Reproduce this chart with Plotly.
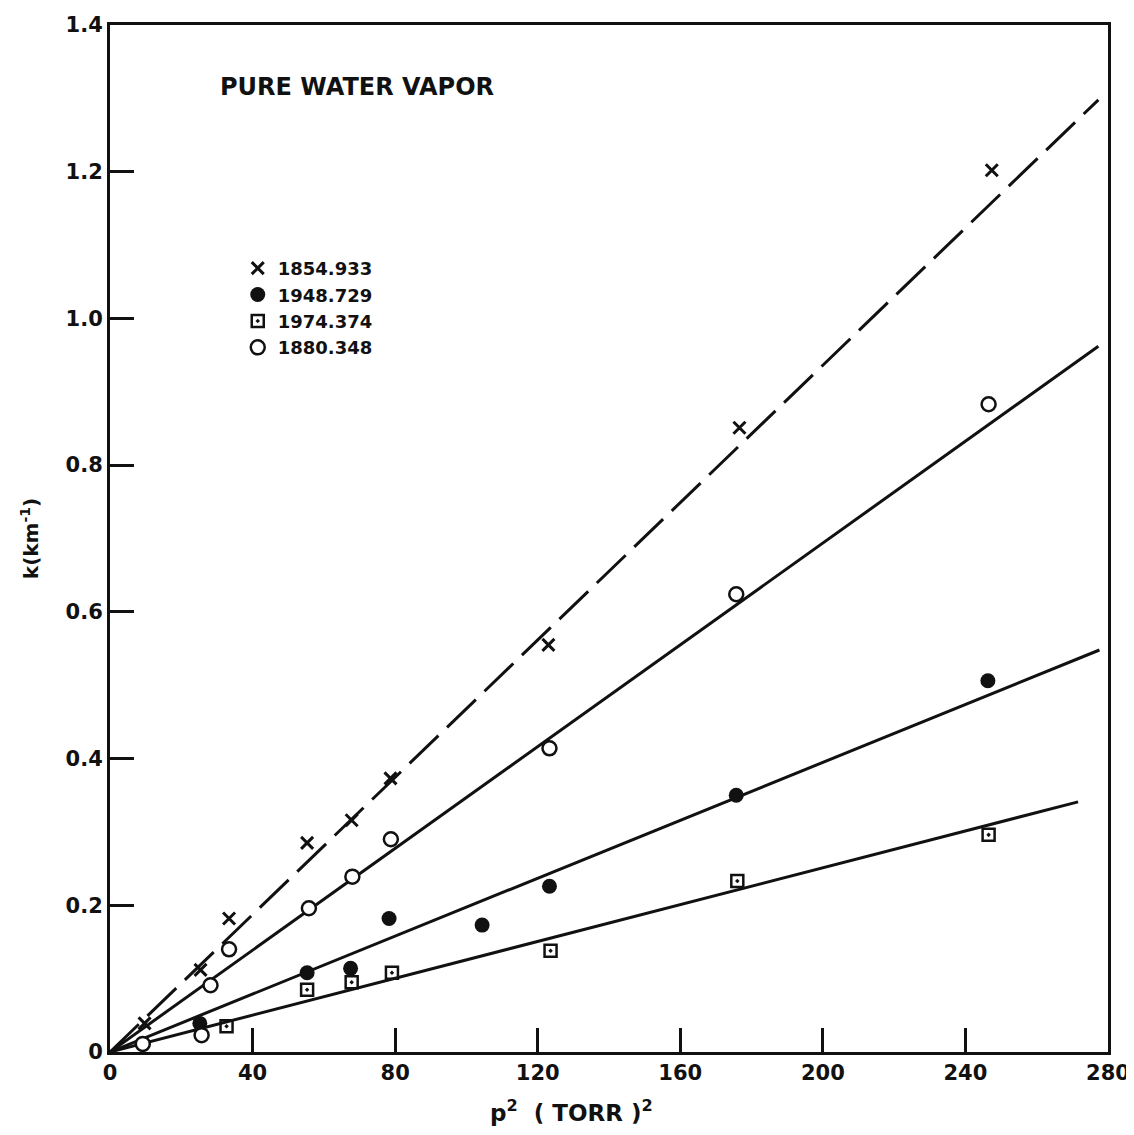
import plotly.graph_objects as go

# ---- data ----
x_1854 = [9.7, 25.4, 33.4, 55.3, 67.8, 78.7, 123.0, 176.6, 247.4]
y_1854 = [0.039, 0.112, 0.182, 0.285, 0.316, 0.373, 0.555, 0.851, 1.202]

x_1948 = [25.2, 55.3, 67.5, 78.3, 104.4, 123.3, 175.7, 246.3]
y_1948 = [0.039, 0.108, 0.114, 0.182, 0.173, 0.226, 0.350, 0.506]

x_1974 = [32.7, 55.3, 67.8, 79.1, 123.6, 176.0, 246.5]
y_1974 = [0.035, 0.085, 0.095, 0.108, 0.138, 0.233, 0.296]

x_1880 = [9.2, 25.7, 28.2, 33.4, 55.8, 68.0, 78.8, 123.3, 175.7, 246.5]
y_1880 = [0.011, 0.023, 0.091, 0.140, 0.196, 0.239, 0.290, 0.414, 0.624, 0.883]

# fitted lines (start, end) as drawn
fit_1854_x = [0, 277.3]
fit_1854_y = [0, 1.298]
fit_1880_x = [0, 277.3]
fit_1880_y = [0, 0.962]
fit_1948_x = [0, 277.6]
fit_1948_y = [0, 0.548]
fit_1974_x = [0, 271.6]
fit_1974_y = [0, 0.341]

x_ticks = [0, 40, 80, 120, 160, 200, 240, 280]
y_ticks = [0, 0.2, 0.4, 0.6, 0.8, 1.0, 1.2, 1.4]
y_tick_text = ["0", "0.2", "0.4", "0.6", "0.8", "1.0", "1.2", "1.4"]

FONT = "DejaVu Sans"
INK = "#111111"

fig = go.Figure()

# fit lines
fig.add_trace(go.Scatter(x=fit_1854_x, y=fit_1854_y, mode="lines", showlegend=False,
                         line=dict(color=INK, width=3, dash="40px,12px"), hoverinfo="skip"))
for fx, fy in [(fit_1880_x, fit_1880_y), (fit_1948_x, fit_1948_y), (fit_1974_x, fit_1974_y)]:
    fig.add_trace(go.Scatter(x=fx, y=fy, mode="lines", showlegend=False,
                             line=dict(color=INK, width=3), hoverinfo="skip"))

# data markers (legend order as in reference)
fig.add_trace(go.Scatter(x=x_1854, y=y_1854, mode="markers", name="1854.933",
                         marker=dict(symbol="x-thin-open", size=12, color=INK,
                                     line=dict(color=INK, width=3))))
fig.add_trace(go.Scatter(x=x_1948, y=y_1948, mode="markers", name="1948.729",
                         marker=dict(symbol="circle", size=15, color=INK,
                                     line=dict(color=INK, width=0))))
fig.add_trace(go.Scatter(x=x_1974, y=y_1974, mode="markers", name="1974.374",
                         marker=dict(symbol="square-open-dot", size=12, color=INK,
                                     line=dict(color=INK, width=2.5))))
fig.add_trace(go.Scatter(x=x_1880, y=y_1880, mode="markers", name="1880.348",
                         marker=dict(symbol="circle", size=14, color="white",
                                     line=dict(color=INK, width=2.5))))

fig.update_layout(
    width=1126, height=1127,
    margin=dict(l=102, r=26, t=17, b=83),
    paper_bgcolor="white", plot_bgcolor="white",
    font=dict(family=FONT, size=19, color=INK, weight="bold"),
    showlegend=True,
    legend=dict(x=0.128, y=0.781, xanchor="left", yanchor="top",
                bgcolor="rgba(0,0,0,0)", borderwidth=0,
                font=dict(family=FONT, size=18, color=INK, weight="bold"),
                itemwidth=30, tracegroupgap=0),
    annotations=[
        dict(text="PURE WATER VAPOR", x=0.108, y=0.94, xref="paper", yref="paper",
             xanchor="left", yanchor="middle", showarrow=False,
             font=dict(family=FONT, size=24, color=INK, weight="bold")),
        dict(text="p<sup>2</sup>  ( TORR )<sup>2</sup>", x=0.462, y=0, xref="paper",
             yref="paper", xanchor="center", yanchor="top", yshift=-42,
             showarrow=False,
             font=dict(family=FONT, size=23, color=INK, weight="bold")),
    ],
)

fig.update_xaxes(
    range=[0, 280], tickmode="array", tickvals=x_ticks, automargin=False,
    ticks="inside", ticklen=24, tickwidth=3, tickcolor=INK,
    showline=True, linewidth=3, linecolor=INK, mirror=True,
    showgrid=False, zeroline=False,
    tickfont=dict(family=FONT, size=21, color=INK, weight="bold"),
)
fig.update_yaxes(
    range=[0, 1.4], tickmode="array", tickvals=y_ticks, ticktext=y_tick_text,
    automargin=False,
    ticks="inside", ticklen=24, tickwidth=3, tickcolor=INK,
    showline=True, linewidth=3, linecolor=INK, mirror=True,
    showgrid=False, zeroline=False,
    tickfont=dict(family=FONT, size=21, color=INK, weight="bold"),
    title=dict(text="k(km<sup>-1</sup>)", standoff=22,
               font=dict(family=FONT, size=20, color=INK, weight="bold")),
)

fig.write_html("out.html")
